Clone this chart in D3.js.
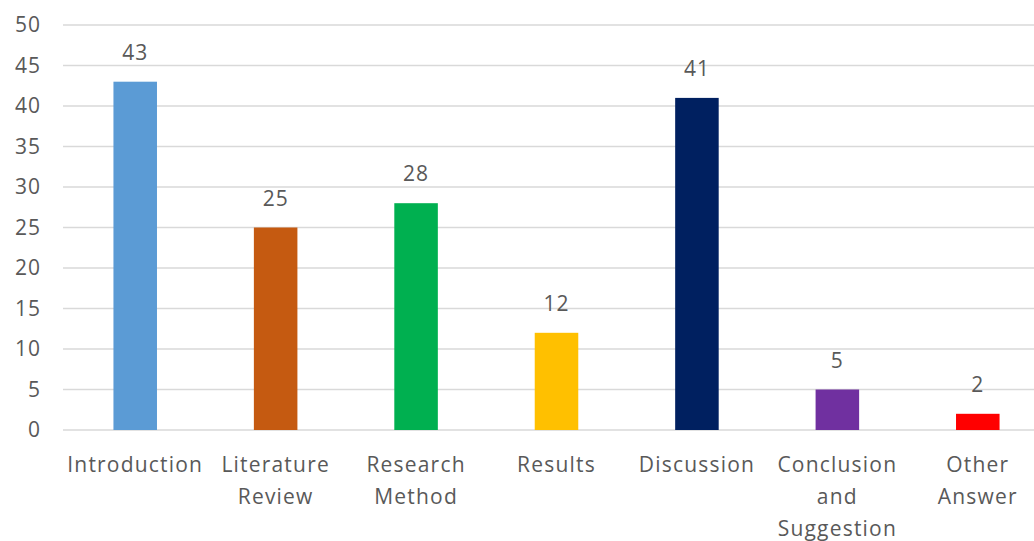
<!DOCTYPE html>
<html>
<head>
<meta charset="utf-8">
<script src="https://cdn.jsdelivr.net/npm/d3@7"></script>
<style>
    body { margin: 0; background: #fff; }
    svg { display: block; }
    .tick text, .label, .cat { font-family: "Open Sans", sans-serif; fill: #595959; }
    .grid line { stroke: #d9d9d9; stroke-width: 1.5; }
</style>
</head>
<body>
<svg id="chart" width="1034" height="541"></svg>
<script>
var categories = ["Introduction", "Literature Review", "Research Method", "Results", "Discussion", "Conclusion and Suggestion", "Other Answer"];
var categoryLines = [["Introduction"], ["Literature", "Review"], ["Research", "Method"], ["Results"], ["Discussion"], ["Conclusion", "and", "Suggestion"], ["Other", "Answer"]];
var values = [43, 25, 28, 12, 41, 5, 2];
var colors = ["#5b9bd5", "#c55a11", "#00b050", "#ffc000", "#002060", "#7030a0", "#ff0000"];
var yTicks = [0, 5, 10, 15, 20, 25, 30, 35, 40, 45, 50];

var svg = d3.select("#chart");

var x = d3.scaleBand()
    .domain(categories)
    .range([65, 1048])
    .paddingInner(0.69)
    .paddingOuter(0.345);

var y = d3.scaleLinear()
    .domain([0, 50])
    .range([430, 25]);

// gridlines
svg.append("g")
    .attr("class", "grid")
    .selectAll("line")
    .data(yTicks)
    .enter().append("line")
    .attr("x1", 63)
    .attr("x2", 1034)
    .attr("y1", function(d) { return y(d); })
    .attr("y2", function(d) { return y(d); });

// y axis labels
var yAxis = d3.axisLeft(y)
    .tickValues(yTicks)
    .tickSize(0)
    .tickPadding(0);

svg.append("g")
    .attr("transform", "translate(41,0)")
    .call(yAxis)
    .call(function(g) { g.select(".domain").remove(); })
    .selectAll("text")
    .style("font-size", "21px")
    .style("letter-spacing", "1px");

// bars
svg.append("g")
    .selectAll("rect")
    .data(values)
    .enter().append("rect")
    .attr("x", function(d, i) { return x(categories[i]); })
    .attr("y", function(d) { return y(d); })
    .attr("width", x.bandwidth())
    .attr("height", function(d) { return y(0) - y(d); })
    .attr("fill", function(d, i) { return colors[i]; });

// value labels
svg.append("g")
    .selectAll("text")
    .data(values)
    .enter().append("text")
    .attr("class", "label")
    .attr("x", function(d, i) { return x(categories[i]) + x.bandwidth() / 2; })
    .attr("y", function(d) { return y(d) - 22; })
    .attr("text-anchor", "middle")
    .style("font-size", "21px")
    .style("letter-spacing", "1px")
    .text(function(d) { return d; });

// category labels
var cat = svg.append("g")
    .selectAll("text")
    .data(categoryLines)
    .enter().append("text")
    .attr("class", "cat")
    .attr("text-anchor", "middle")
    .attr("x", function(d, i) { return x(categories[i]) + x.bandwidth() / 2; })
    .attr("y", 472)
    .style("font-size", "21px")
    .style("letter-spacing", "1.2px");

cat.selectAll("tspan")
    .data(function(d) { return d; })
    .enter().append("tspan")
    .attr("x", function() { return d3.select(this.parentNode).attr("x"); })
    .attr("dy", function(d, i) { return i === 0 ? 0 : 32; })
    .text(function(d) { return d; });
</script>
</body>
</html>
